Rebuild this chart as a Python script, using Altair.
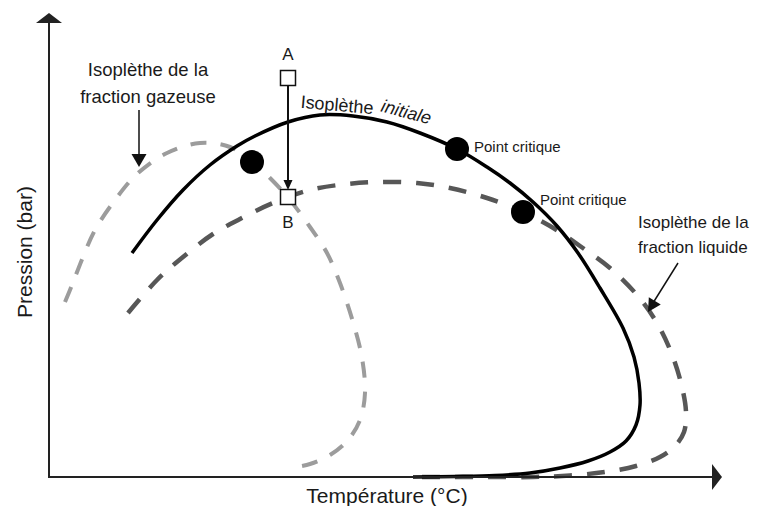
import altair as alt
import pandas as pd

# ---- curves, in picture pixel coordinates (x right, y down) ----
init_x = [132, 157, 183, 210, 237, 255, 288, 320, 353, 387, 420, 457, 487, 510, 533, 557, 578, 600, 623, 634, 639, 640, 636, 626, 610, 588, 560, 530, 495, 455, 413]
init_y = [253, 220, 190, 165, 146, 136, 122, 115, 116, 122, 133, 149, 167, 183, 202, 226, 253, 288, 328, 357, 383, 405, 425, 441, 452, 461, 468, 473, 475.5, 476.5, 477]

gas_x = [65, 72, 83, 95, 115, 137, 167, 200, 230, 250, 270, 290, 310, 327, 340, 353, 362, 365, 360, 348, 330, 310, 290]
gas_y = [302, 285, 257, 230, 200, 174, 153, 143, 147, 160, 178, 200, 227, 253, 283, 322, 358, 393, 420, 440, 455, 464, 468]

liq_x = [128, 157, 183, 213, 240, 273, 310, 347, 380, 417, 450, 487, 523, 550, 580, 610, 637, 657, 671, 681, 686, 684, 675, 660, 636, 605, 570, 533, 480, 415]
liq_y = [313, 280, 257, 234, 219, 203, 190, 184, 182, 183, 188, 198, 212, 226, 246, 268, 295, 323, 352, 383, 412, 432, 446, 457, 466, 472, 475.5, 477, 477, 477]

# critical points / state points
crit_x = [252, 457, 523]
crit_y = [162, 149, 212]
state_x = [288, 288]
state_y = [78, 197]

# axes and arrows (start / end)
yaxis_x, yaxis_y = [49, 49], [20, 477]
xaxis_x, xaxis_y = [48, 714], [477, 477]
ab_x, ab_y = [288, 288], [86, 182]
gasarrow_x, gasarrow_y = [139, 139], [110, 157]
liqarrow_x, liqarrow_y = [678, 653], [263, 303]

# texts
gas_text = ["Isoplèthe de la", "fraction gazeuse"]
gas_tx, gas_ty = [148, 148], [70, 97]
liq_text = ["Isoplèthe de la", "fraction liquide"]
liq_tx, liq_ty = [638, 638], [223, 248]

crit_text = ["Point critique", "Point critique"]
crit_tx = [474, 540]
crit_ty = [147, 200]

ab_text = ["A", "B"]
ab_tx = [288, 288]
ab_ty = [55, 223]

FONT = "Liberation Sans"
xs = alt.Scale(domain=[8, 754], nice=False, zero=False)
ys = alt.Scale(domain=[8, 506], nice=False, zero=False, reverse=True)


def enc(ch):
    return ch.encode(x=alt.X("x:Q", scale=xs, axis=None),
                     y=alt.Y("y:Q", scale=ys, axis=None))


def line(xv, yv, color, width, dash=None, interp="linear"):
    df = pd.DataFrame({"x": xv, "y": yv, "i": list(range(len(xv)))})
    kw = dict(color=color, strokeWidth=width, interpolate=interp, strokeCap="butt")
    if dash:
        kw["strokeDash"] = dash
    return enc(alt.Chart(df).mark_line(**kw)).encode(order="i:Q")


def head(x, y, path, angle=0, color="#111"):
    df = pd.DataFrame({"x": [x], "y": [y]})
    return enc(alt.Chart(df).mark_point(shape=path, size=4, filled=True, fill=color,
                                        strokeWidth=0, opacity=1, angle=angle))


def texts(tx, ty, tt, size, align="center", angle=0, style="normal", color="#1a1a1a"):
    df = pd.DataFrame({"x": tx, "y": ty, "t": tt})
    return enc(alt.Chart(df).mark_text(font=FONT, fontSize=size, align=align, baseline="middle",
                                       angle=angle, fontStyle=style, color=color)).encode(text="t:N")


layers = [
    line(gas_x, gas_y, "#9c9c9c", 4, [16, 14], "catmull-rom"),
    line(liq_x, liq_y, "#575757", 4.5, [18, 15], "catmull-rom"),
    line(init_x, init_y, "#000000", 3.5, None, "catmull-rom"),
    line(yaxis_x, yaxis_y, "#222222", 2),
    line(xaxis_x, xaxis_y, "#222222", 2),
    head(49, 13, "M0,0 L13,10 L-13,10 Z", color="#222"),
    head(722, 477, "M0,0 L-10,-13 L-10,13 Z", color="#222"),
    line(ab_x, ab_y, "#111111", 2),
    line(gasarrow_x, gasarrow_y, "#111111", 1.5),
    line(liqarrow_x, liqarrow_y, "#111111", 1.5),
    head(288, 190, "M0,0 L-4.5,-10 L4.5,-10 Z"),
    head(139, 167, "M0,0 L-7.5,-13 L7.5,-13 Z"),
    head(648, 312, "M0,0 L-7,-13 L7,-13 Z", angle=31.5),
]

crit_df = pd.DataFrame({"x": crit_x, "y": crit_y})
layers.append(enc(alt.Chart(crit_df).mark_circle(size=576, color="#000", opacity=1)))
state_df = pd.DataFrame({"x": state_x, "y": state_y})
layers.append(enc(alt.Chart(state_df).mark_point(shape="square", size=225, filled=True, fill="white",
                                                stroke="#111", strokeWidth=1.5, opacity=1)))

layers.append(texts(gas_tx, gas_ty, gas_text, 18.5, align="center"))
layers.append(texts(liq_tx, liq_ty, liq_text, 17, align="left"))
layers.append(texts(crit_tx, crit_ty, crit_text, 15, align="left"))
layers.append(texts(ab_tx, ab_ty, ab_text, 17))
layers.append(texts([337], [106], ["Isoplèthe"], 18, angle=5))
layers.append(texts([406], [113], ["initiale"], 18, angle=15, style="italic"))
layers.append(texts([387], [497], ["Température (°C)"], 21))
layers.append(texts([26], [252], ["Pression (bar)"], 21, angle=270))

chart = alt.layer(*layers).properties(
    width=746, height=498, padding=0,
    autosize=alt.AutoSizeParams(type="none"),
    background="white",
).configure_view(stroke=None)

chart.save("out.html", embed_options={"renderer": "svg", "actions": False})
